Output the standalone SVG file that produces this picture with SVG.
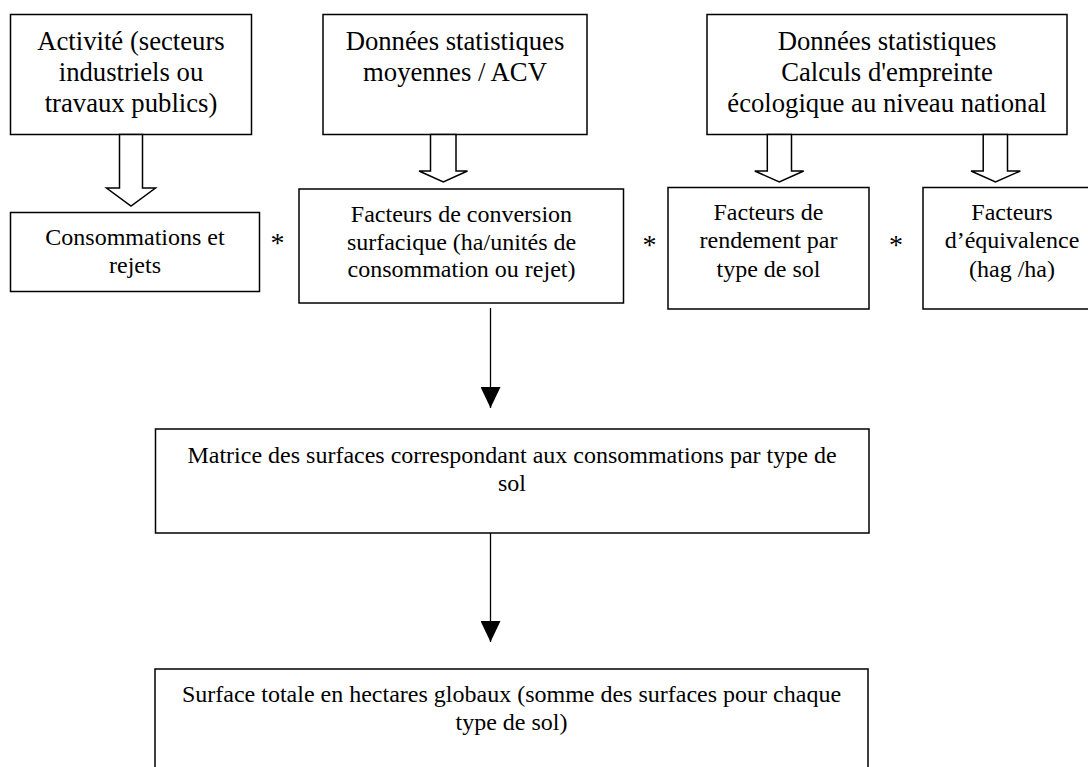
<svg xmlns="http://www.w3.org/2000/svg" width="1088" height="767" viewBox="0 0 1088 767">
<style>
.box{fill:#fff;stroke:#000;stroke-width:1.5}
.hol{fill:#fff;stroke:#000;stroke-width:1.5;stroke-linejoin:miter}
.ln{stroke:#000;stroke-width:1.3;fill:none}
text{font-family:"Liberation Serif","Times New Roman",serif;fill:#000;text-anchor:middle}
.t26{font-size:26.7px}
.t24{font-size:24px}
.op{font-size:28px}
</style>
<defs>
<marker id="ah" markerWidth="20" markerHeight="21" refX="10" refY="21" orient="0" markerUnits="userSpaceOnUse">
<polygon points="0,0 20,0 10,21" fill="#000"/>
</marker>
</defs>
<rect width="1088" height="767" fill="#fff"/>

<g id="activite">
<rect class="box" x="10.5" y="14.5" width="241" height="120"/>
<text class="t26" x="131" y="49.5">Activité (secteurs</text>
<text class="t26" x="131" y="80.5">industriels ou</text>
<text class="t26" x="131" y="111.5">travaux publics)</text>
</g>

<g id="donnees-acv">
<rect class="box" x="323" y="14.5" width="264" height="120"/>
<text class="t26" x="455" y="49.5">Données statistiques</text>
<text class="t26" x="455" y="80.5">moyennes / ACV</text>
</g>

<g id="donnees-empreinte">
<rect class="box" x="707" y="14.5" width="360" height="120"/>
<text class="t26" x="887" y="49.5">Données statistiques</text>
<text class="t26" x="887" y="80.5">Calculs d'empreinte</text>
<text class="t26" x="887" y="111.5">écologique au niveau national</text>
</g>

<g id="consommations">
<rect class="box" x="10.5" y="212.5" width="249" height="79"/>
<text class="t24" x="135" y="245">Consommations et</text>
<text class="t24" x="135" y="272.5">rejets</text>
</g>

<g id="conversion">
<rect class="box" x="299" y="189" width="324.5" height="114"/>
<text class="t24" x="461.5" y="222">Facteurs de conversion</text>
<text class="t24" x="461.5" y="249.5">surfacique (ha/unités de</text>
<text class="t24" x="461.5" y="277">consommation ou rejet)</text>
</g>

<g id="rendement">
<rect class="box" x="668" y="187.5" width="201" height="121.5"/>
<text class="t24" x="768.5" y="220">Facteurs de</text>
<text class="t24" x="768.5" y="248">rendement par</text>
<text class="t24" x="768.5" y="276.5">type de sol</text>
</g>

<g id="equivalence">
<rect class="box" x="923" y="187.5" width="180" height="121.5"/>
<text class="t24" x="1012" y="220">Facteurs</text>
<text class="t24" x="1012" y="248">d’équivalence</text>
<text class="t24" x="1012" y="276.5">(hag /ha)</text>
</g>

<g id="operateurs">
<text class="op" x="277.5" y="251.5">*</text>
<text class="op" x="649.5" y="253.5">*</text>
<text class="op" x="896" y="253.5">*</text>
</g>

<g id="matrice">
<rect class="box" x="155.5" y="429" width="713.5" height="104"/>
<text class="t24" x="512" y="462.5">Matrice des surfaces correspondant aux consommations par type de</text>
<text class="t24" x="512" y="490.5">sol</text>
</g>

<g id="surface-totale">
<rect class="box" x="155" y="669" width="713" height="110"/>
<text class="t24" x="511.5" y="701.5">Surface totale en hectares globaux (somme des surfaces pour chaque</text>
<text class="t24" x="511.5" y="729.5">type de sol)</text>
</g>

<g id="connecteurs">
<polygon class="hol" points="119.5,134.5 119.5,188 106.5,188 131,206 155.5,188 142.5,188 142.5,134.5"/>
<polygon class="hol" points="430.5,134.5 430.5,171 419,171 443.3,182 467.5,171 456,171 456,134.5"/>
<polygon class="hol" points="767.3,134.5 767.3,171 754.8,171 779.3,182 803.7,171 791.5,171 791.5,134.5"/>
<polygon class="hol" points="983.2,134.5 983.2,171 971,171 995.5,182 1020.3,171 1007.5,171 1007.5,134.5"/>
<line class="ln" x1="490.5" y1="308" x2="490.5" y2="408" marker-end="url(#ah)"/>
<line class="ln" x1="490.5" y1="533" x2="490.5" y2="642" marker-end="url(#ah)"/>
</g>
</svg>
